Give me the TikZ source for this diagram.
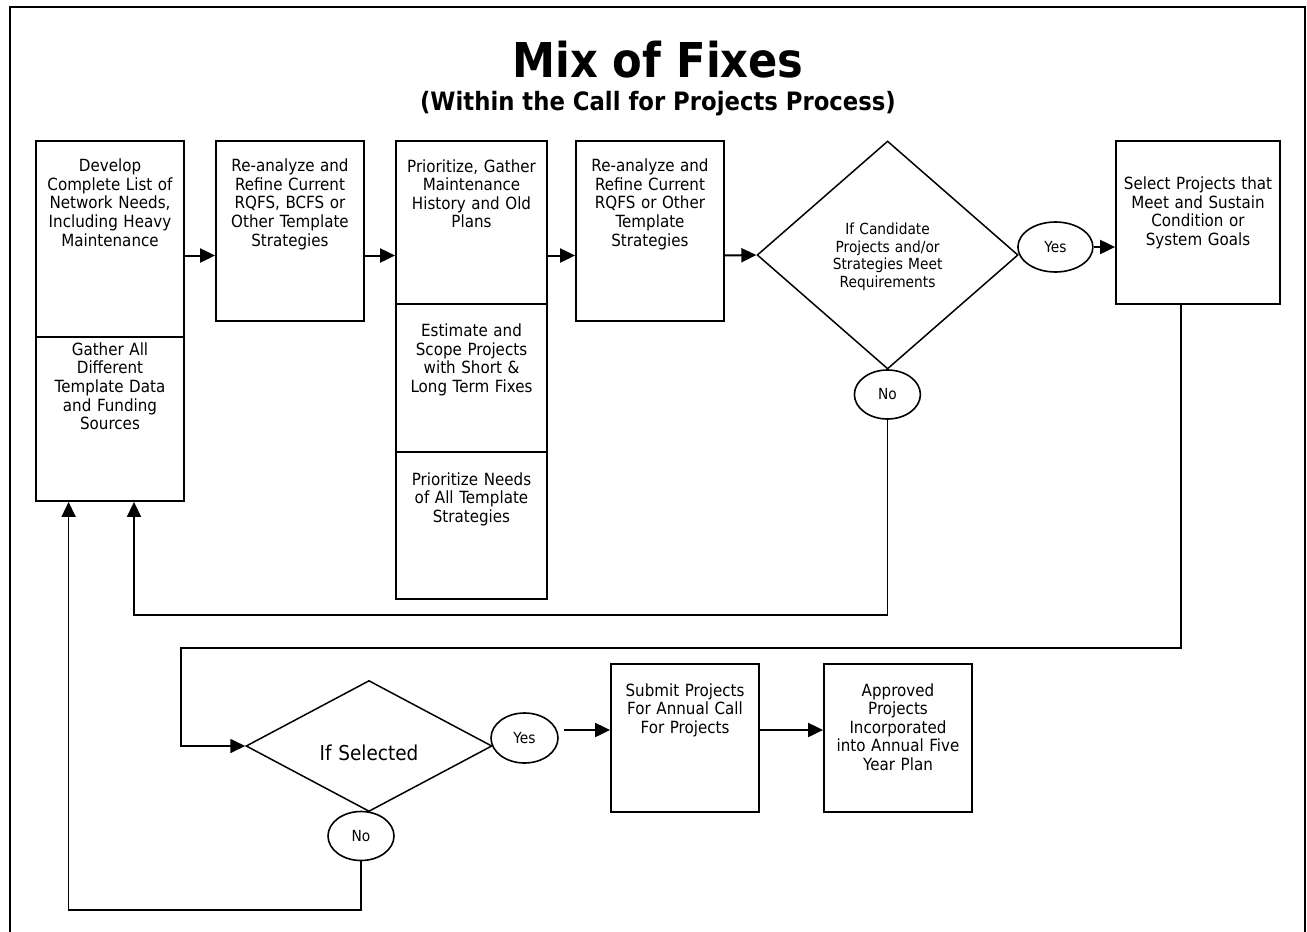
\documentclass[tikz,border=0pt]{standalone}
\usepackage{fontspec}
\setmainfont{DejaVu Sans}[FakeStretch=0.9]
\usetikzlibrary{arrows.meta,shapes.geometric,calc}
\begin{document}
\begin{tikzpicture}[x=1pt,y=-1pt,
  boxn/.style={draw, rectangle, line width=1.8pt, inner sep=0pt},
  dia/.style={draw, diamond, line width=1.5pt, inner sep=0pt},
  oval/.style={draw, ellipse, line width=1.6pt, inner sep=0pt, font=\fontsize{15.3}{17}\selectfont},
  txt/.style={anchor=base, text width=180pt, align=center, inner sep=0pt, font=\fontsize{16.8}{18.6}\selectfont},
  arr/.style={-{Triangle[length=15pt,width=14pt]}},
  harr/.style={arr, line width=2pt},
  link/.style={line width=1.7pt},
  frame/.style={line width=2pt}]
\useasboundingbox (0,0) rectangle (1307,932);
\draw[frame] (10,932) -- (10,7) -- (1305,7) -- (1305,932);

% titles
\node[anchor=base, inner sep=0pt, font=\fontsize{48}{50}\selectfont\bfseries] (title) at (658,77) {Mix of Fixes};
\node[anchor=base, inner sep=0pt, font=\fontsize{25.3}{27}\selectfont\bfseries] (subtitle) at (658,110.5) {(Within the Call for Projects Process)};

% boxes
\node[boxn, minimum width=148pt, minimum height=196pt] (b1t) at (110,239) {};
\node[boxn, minimum width=148pt, minimum height=164pt] (b1b) at (110,419) {};
\node[boxn, minimum width=148pt, minimum height=180pt] (b2) at (290,231) {};
\node[boxn, minimum width=151pt, minimum height=163pt] (b3t) at (471.5,222.5) {};
\node[boxn, minimum width=151pt, minimum height=148pt] (b3m) at (471.5,378) {};
\node[boxn, minimum width=151pt, minimum height=147pt] (b3b) at (471.5,525.5) {};
\node[boxn, minimum width=148pt, minimum height=180pt] (b4) at (650,231) {};
\node[dia, minimum width=261pt, minimum height=228pt] (d1) at (887.6,255) {};
\node[oval, minimum width=75pt, minimum height=50pt] (y1) at (1055.4,247) {Yes};
\node[oval, minimum width=66pt, minimum height=49pt] (n1) at (887.4,394.5) {No};
\node[boxn, minimum width=164pt, minimum height=163pt] (b5) at (1198,222.5) {};
\node[dia, minimum width=246pt, minimum height=131pt] (d2) at (369,746) {};
\node[oval, minimum width=67pt, minimum height=50pt] (y2) at (524.5,738) {Yes};
\node[oval, minimum width=66pt, minimum height=49pt] (n2) at (361,836) {No};
\node[boxn, minimum width=148pt, minimum height=148pt] (b6) at (685,738) {};
\node[boxn, minimum width=148pt, minimum height=148pt] (b7) at (898,738) {};

% texts
\node[txt] (t1t) at (110,171.7) {Develop\\Complete List of\\Network Needs,\\Including Heavy\\Maintenance};
\node[txt] (t1b) at (110,355.3) {Gather All\\Different\\Template Data\\and Funding\\Sources};
\node[txt] (t2) at (290,171.7) {Re-analyze and\\Refine Current\\RQFS, BCFS or\\Other Template\\Strategies};
\node[txt] (t3t) at (471.5,172) {Prioritize, Gather\\Maintenance\\History and Old\\Plans};
\node[txt] (t3m) at (471.5,336.7) {Estimate and\\Scope Projects\\with Short \&\\Long Term Fixes};
\node[txt] (t3b) at (471.5,485) {Prioritize Needs\\of All Template\\Strategies};
\node[txt] (t4) at (650,171.7) {Re-analyze and\\Refine Current\\RQFS or Other\\Template\\Strategies};
\node[txt] (t5) at (1198,189.7) {Select Projects that\\Meet and Sustain\\Condition or\\System Goals};
\node[txt] (t6) at (685,696) {Submit Projects\\For Annual Call\\For Projects};
\node[txt] (t7) at (898,696) {Approved\\Projects\\Incorporated\\into Annual Five\\Year Plan};
\node[txt, font=\fontsize{15.3}{17.5}\selectfont] (td1) at (887.6,234.5) {If Candidate\\Projects and/or\\Strategies Meet\\Requirements};
\node[txt, font=\fontsize{20.5}{22}\selectfont] (td2) at (369,760) {If Selected};

% connectors
\coordinate (row) at (0,255.5);
\draw[harr] (b1t.east |- row) -- (b2.west |- row);
\draw[harr] (b2.east |- row) -- (b3t.west |- row);
\draw[harr] (b3t.east |- row) -- (b4.west |- row);
\draw[harr] (b4.east |- row) -- (d1.west);
\draw[harr] (y1.east) -- (b5.west |- y1.east);

\coordinate (k1) at (134,615);
\draw[link,arr] (n1.south) |- (k1) -- (k1 |- b1b.south);

\coordinate (k2) at (1181,648);
\coordinate (k3) at (181,648);
\draw[link,arr] (k2 |- b5.south) -- (k2) -- (k3) |- (d2.west);

\coordinate (k4) at (68.6,910);
\draw[link,arr] (n2.south) |- (k4) -- (k4 |- b1b.south);

\coordinate (row2) at (0,730);
\path ([xshift=5.5pt]y2.east) coordinate (y2e);
\draw[harr] (y2e |- row2) -- (b6.west |- row2);
\draw[harr] (b6.east |- row2) -- (b7.west |- row2);
\end{tikzpicture}
\end{document}
